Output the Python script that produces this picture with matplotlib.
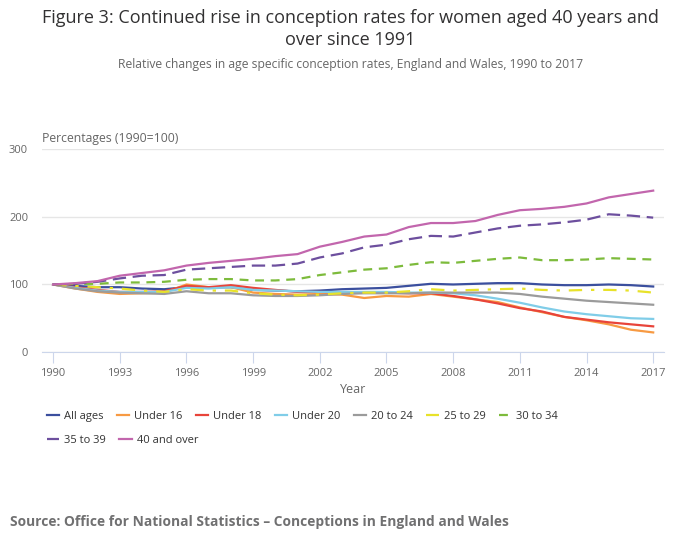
import matplotlib.pyplot as plt

plt.rcParams['font.family'] = ['Open Sans', 'DejaVu Sans']

# Index values (1990=100)
years = list(range(1990, 2018))

all_ages = [100, 98, 96, 96, 94, 93, 96, 96, 96, 92, 91, 90, 91, 93, 94, 95,
            98, 101, 100, 101, 102, 102, 100, 99, 99, 100, 99, 97]
under_16 = [100, 94, 89, 86, 87, 88, 100, 96, 96, 88, 86, 85, 86, 85, 80, 83,
            82, 86, 82, 78, 74, 66, 59, 52, 47, 41, 33, 29]
under_18 = [100, 96, 92, 89, 89, 90, 98, 96, 99, 95, 92, 89, 89, 88, 88, 88,
            87, 87, 83, 78, 72, 65, 60, 52, 48, 44, 41, 38]
under_20 = [100, 95, 91, 89, 89, 89, 95, 94, 96, 92, 91, 90, 89, 89, 89, 89,
            88, 88, 87, 84, 79, 73, 66, 60, 56, 53, 50, 49]
age_20_24 = [100, 94, 90, 88, 87, 86, 90, 87, 87, 84, 83, 83, 84, 86, 87, 87,
             87, 88, 88, 88, 88, 86, 82, 79, 76, 74, 72, 70]
age_25_29 = [100, 98, 96, 94, 91, 89, 93, 91, 91, 87, 85, 84, 85, 87, 88, 88,
             90, 93, 91, 92, 93, 94, 92, 91, 92, 92, 91, 88]
age_30_34 = [100, 101, 101, 103, 103, 104, 107, 108, 108, 106, 106, 108, 114, 118, 122, 124,
             129, 133, 132, 135, 138, 140, 136, 136, 137, 139, 138, 137]
age_35_39 = [100, 101, 104, 109, 113, 114, 122, 124, 126, 128, 128, 131, 140, 146, 155, 159,
             167, 172, 171, 177, 183, 187, 189, 192, 196, 204, 202, 199]
age_40_over = [100, 102, 105, 113, 117, 121, 128, 132, 135, 138, 142, 145, 156, 163, 171, 174,
               185, 191, 191, 194, 203, 210, 212, 215, 220, 229, 234, 239]

series = [
    ("All ages", all_ages, "#3b4f9e", "-"),
    ("Under 16", under_16, "#f79a43", "-"),
    ("Under 18", under_18, "#e8443a", "-"),
    ("Under 20", under_20, "#80cde8", "-"),
    ("20 to 24", age_20_24, "#9b9b9b", "-"),
    ("25 to 29", age_25_29, "#e8e22a", (0, (6, 4, 1.5, 4))),
    ("30 to 34", age_30_34, "#7dbb3c", (0, (4, 3))),
    ("35 to 39", age_35_39, "#6d4f9e", (0, (6, 3))),
    ("40 and over", age_40_over, "#c266ad", "-"),
]

fig = plt.figure(figsize=(7, 5.49), dpi=100)
ax = fig.add_axes([0.06, 0.3588, 0.889, 0.369])

lines = {}
for name, vals, color, ls in series:
    ln, = ax.plot(years, vals, color=color, linestyle=ls, linewidth=1.6, label=name)
    lines[name] = ln

ax.set_xlim(1989.5, 2017.5)
ax.set_ylim(0, 300)
ax.set_xticks(list(range(1990, 2018, 3)))
ax.set_yticks([0, 100, 200, 300])
ax.grid(axis='y', color='#e6e6e6', linewidth=1)
ax.set_axisbelow(True)
for s in ['top', 'right', 'left']:
    ax.spines[s].set_visible(False)
ax.spines['bottom'].set_color('#ccd6eb')
ax.tick_params(axis='x', colors='#ccd6eb', length=8, labelcolor='#666666', labelsize=8)
ax.tick_params(axis='y', length=0, labelcolor='#666666', labelsize=8, pad=10)
ax.set_xlabel("Year", color='#666666', fontsize=9, labelpad=3)
ax.text(0, 1.02, "Percentages (1990=100)", transform=ax.transAxes,
        fontsize=8.8, color='#666666', ha='left', va='bottom')

# legend: two rows, drawn as two legends so the columns stay tight
row1 = ["All ages", "Under 16", "Under 18", "Under 20", "20 to 24", "25 to 29", "30 to 34"]
row2 = ["35 to 39", "40 and over"]
leg_kw = dict(frameon=False, loc='center left', fontsize=8, handlelength=1.1,
              handletextpad=0.45, columnspacing=1.2, labelcolor='#333333')
fig.legend([lines[n] for n in row1], row1, ncol=7, bbox_to_anchor=(0.053, 0.242), **leg_kw)
fig.legend([lines[n] for n in row2], row2, ncol=2, bbox_to_anchor=(0.053, 0.197), **leg_kw)

fig.text(0.5, 0.947, "Figure 3: Continued rise in conception rates for women aged 40 years and\nover since 1991",
         ha='center', va='center', fontsize=13, color='#323132', linespacing=1.3)
fig.text(0.5, 0.883, "Relative changes in age specific conception rates, England and Wales, 1990 to 2017",
         ha='center', va='center', fontsize=8.7, color='#666666')
fig.text(0.014, 0.05, "Source: Office for National Statistics \u2013 Conceptions in England and Wales",
         ha='left', va='center', fontsize=9.9, fontweight='bold', color='#707071')

fig.savefig("out.png", dpi=100)
